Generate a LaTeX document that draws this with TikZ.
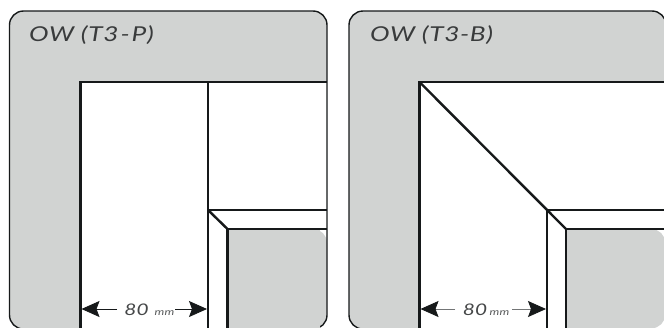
\documentclass[tikz,border=0pt]{standalone}
\usepackage{fontspec}
\setmainfont{Lato}
\newfontfamily\handfont[FakeStretch=1.28,LetterSpace=3]{Lato}
\newfontfamily\dimfont[FakeStretch=1.3,LetterSpace=2]{Lato}
\usetikzlibrary{arrows.meta}
\definecolor{panelgrey}{HTML}{D1D3D2}
\definecolor{ink}{HTML}{16191A}
\tikzset{
  x=1pt,y=-1pt,
  panel/.style={draw=ink,line width=1.4pt},
  wall/.style={draw=ink,line width=2.4pt},
  titletext/.style={font=\handfont\itshape\fontsize{20.5}{20.5}\selectfont,text=ink!85,inner sep=0pt,anchor=base west},
  dimtext/.style={font=\dimfont\itshape\fontsize{16}{16}\selectfont,text=ink!80,inner sep=0pt,anchor=base},
  unittext/.style={font=\dimfont\itshape\fontsize{9.5}{9.5}\selectfont,text=ink!70,inner sep=0pt,anchor=base},
  dimhead/.style={draw=ink,line width=.8pt,-{Stealth[length=18pt,width=16pt,inset=3pt]}},
  dimheadpale/.style={dimhead,draw=ink!60,-{Stealth[length=18pt,width=16pt,inset=3pt,color=ink]}},
}
\begin{document}
\begin{tikzpicture}
\useasboundingbox (0,0) rectangle (664,327);
\begin{scope}
\clip (0,0) rectangle (664,327);
% left panel
\fill[panelgrey,rounded corners=14pt] (9.5,11) rectangle (327,329);
\fill[white] (80.5,82) rectangle (327,335);
\fill[panelgrey,rounded corners=14pt] (200,229) -- (327,229) -- (327,329) -- (200,329) -- cycle;
\fill[white] (200,229) rectangle (227.5,335);
\fill[panelgrey] (227.5,229) rectangle (300,335);
\draw[panel,rounded corners=14pt] (9.5,11) rectangle (327,329);
\fill[white] (82,90) rectangle (320,335);
\fill[panelgrey] (227.5,229) rectangle (320,335);
\draw[wall] (80.5,335) -- (80.5,82) -- (327,82);
\draw[wall] (208,82) -- (208,335);
\coordinate (la) at (208,210);
\coordinate (lb) at (227.5,229);
\draw[wall] (la) -- (327,210);
\draw[wall] (327,229) -- (lb) -- (227.5,335);
\draw[wall] (la) -- (lb);
% right panel
\fill[panelgrey,rounded corners=14pt] (349,11) rectangle (666,329);
\fill[white] (419.5,82) rectangle (668,335);
\fill[panelgrey,rounded corners=14pt] (500,229) -- (666,229) -- (666,329) -- (500,329) -- cycle;
\fill[white] (500,229) rectangle (566,335);
\draw[panel,rounded corners=14pt] (349,11) rectangle (666,329);
\fill[white] (421,90) rectangle (664,335);
\fill[panelgrey] (566,229) rectangle (640,335);
\fill[panelgrey,rounded corners=14pt] (600,229) -- (665.3,229) -- (665.3,328.3) -- (600,328.3) -- cycle;
\draw[wall] (419.5,335) -- (419.5,82) -- (668,82);
\draw[wall] (547,210) -- (547,335);
\coordinate (ra) at (419.5,82);
\coordinate (rb) at (566,229);
\draw[wall] (547,210) -- (668,210);
\draw[wall] (668,229) -- (rb) -- (566,335);
\draw[wall] (ra) -- (rb);
\end{scope}
% titles
\node[titletext] (t1) at (29,41) {OW (T3\kern2pt-\kern2pt P)};
\node[titletext] (t2) at (370,41) {OW (T3-B)};
% dimensions left
\coordinate (d1l) at (81.5,309);
\coordinate (d1r) at (207,309);
\node[dimtext] (d1) at (136.5,315) {80};
\node[unittext] (u1) at (164.5,315) {mm};
\draw[dimhead] (117,309) -- (d1l);
\draw[dimhead] (175,309) -- (d1r);
% dimensions right
\coordinate (d2l) at (420.5,309);
\coordinate (d2r) at (546,309);
\node[dimtext] (d2) at (475,315) {80};
\node[unittext] (u2) at (499.5,315) {mm};
\draw[dimheadpale] (455,309) -- (d2l);
\draw[dimheadpale] (512,309) -- (d2r);
\end{tikzpicture}
\end{document}
